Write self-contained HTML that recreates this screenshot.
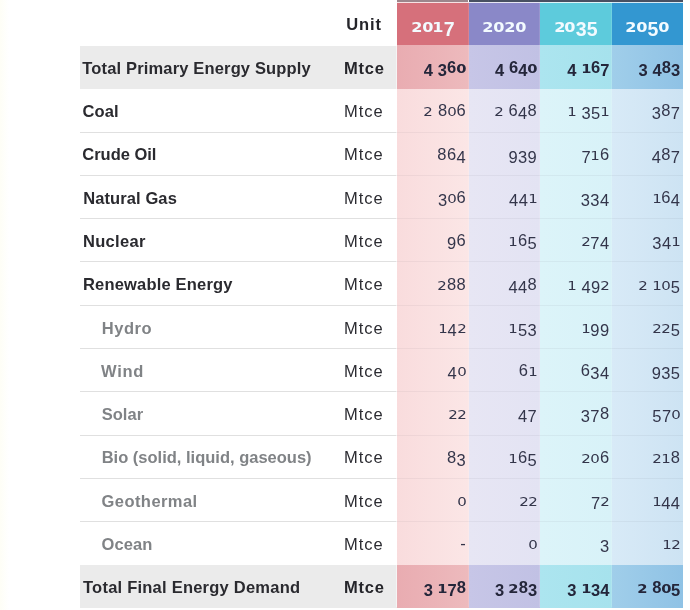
<!DOCTYPE html>
<html><head><meta charset="utf-8"><title>Energy table</title>
<style>
html,body{margin:0;padding:0;background:#fff;}
body{width:690px;height:610px;position:relative;overflow:hidden;font-family:"Liberation Sans",sans-serif;}
.a{position:absolute;white-space:nowrap;}
.lab{font-weight:bold;font-size:16.5px;line-height:20px;color:#2a2a2f;}
.sub{color:#808386;}
.unit{font-size:16.5px;line-height:20px;color:#2c2c32;letter-spacing:1.0px;}
.unitb{font-weight:bold;color:#25252a;letter-spacing:0.75px;}
.num{font-size:16.5px;line-height:20px;color:#33354a;text-align:right;letter-spacing:0.4px;}
.numb{font-weight:bold;color:#24263a;letter-spacing:0.1px;}
.x{font-family:"DejaVu Sans",sans-serif;font-size:12.8px;display:inline-block;transform:scaleX(1.17);margin:0 0.4px;letter-spacing:0;}
.numb .x{transform:scaleX(1.15);margin:0 0.4px;}
.x,.d,.u{line-height:0;}
.d{position:relative;top:3.0px;}
.yr .x{font-size:14px;transform:scaleX(1.15);margin:0 0.6px;}
.yr .d{font-size:19.5px;top:3.9px;}
.yr .u{font-size:19.5px;}
.yr{font-weight:bold;font-size:19.5px;line-height:20px;color:#f3fbff;text-align:center;}
</style></head><body>

<div class="a" style="left:0.00px;top:0.00px;width:9.00px;height:610.00px;background:linear-gradient(90deg,#fefef6,#ffffff);"></div>
<div class="a" style="left:397.20px;top:0.00px;width:71.30px;height:1.60px;background:#9c858c;"></div>
<div class="a" style="left:468.50px;top:0.00px;width:214.30px;height:1.60px;background:#485062;"></div>
<div class="a" style="left:397.20px;top:1.60px;width:71.90px;height:43.20px;background:#d6707b;"></div>
<div class="a" style="left:468.50px;top:1.60px;width:71.70px;height:43.20px;background:#8a88c8;"></div>
<div class="a" style="left:539.60px;top:1.60px;width:72.90px;height:43.20px;background:#5dcbdc;"></div>
<div class="a" style="left:611.90px;top:1.60px;width:70.90px;height:43.20px;background:#3397d1;"></div>
<div class="a" style="left:397.20px;top:1.65px;width:285.60px;height:1.75px;background:rgba(255,255,255,0.8);"></div>
<div class="a" style="left:397.20px;top:44.70px;width:71.90px;height:562.80px;background:linear-gradient(90deg,#f9dcdd,#fbe6e6);"></div>
<div class="a" style="left:468.50px;top:44.70px;width:71.70px;height:562.80px;background:linear-gradient(90deg,#e7e6f4,#e3e3f3);"></div>
<div class="a" style="left:539.60px;top:44.70px;width:72.90px;height:562.80px;background:linear-gradient(90deg,#dcf4f9,#d8f2f8);"></div>
<div class="a" style="left:611.90px;top:44.70px;width:70.90px;height:562.80px;background:linear-gradient(90deg,#d8eaf7,#cde3f3);"></div>
<div class="a" style="left:80.00px;top:45.60px;width:316.60px;height:43.38px;background:#ebebeb;"></div>
<div class="a" style="left:397.20px;top:44.90px;width:71.90px;height:44.18px;background:linear-gradient(90deg,#e9acb1,#edbabd);"></div>
<div class="a" style="left:468.50px;top:44.90px;width:71.70px;height:44.18px;background:linear-gradient(90deg,#c7c6e7,#c1c1e4);"></div>
<div class="a" style="left:539.60px;top:44.90px;width:72.90px;height:44.18px;background:linear-gradient(90deg,#ace5ef,#a6e2ed);"></div>
<div class="a" style="left:611.90px;top:44.90px;width:70.90px;height:44.18px;background:linear-gradient(90deg,#a0ceea,#8fc2e5);"></div>
<div class="a" style="left:80.00px;top:132.00px;width:316.80px;height:1.00px;background:#e0e0e0;"></div>
<div class="a" style="left:397.20px;top:132.00px;width:285.60px;height:1.00px;background:rgba(70,60,90,0.06);"></div>
<div class="a" style="left:80.00px;top:175.00px;width:316.80px;height:1.00px;background:#e0e0e0;"></div>
<div class="a" style="left:397.20px;top:175.00px;width:285.60px;height:1.00px;background:rgba(70,60,90,0.06);"></div>
<div class="a" style="left:80.00px;top:218.00px;width:316.80px;height:1.00px;background:#e0e0e0;"></div>
<div class="a" style="left:397.20px;top:218.00px;width:285.60px;height:1.00px;background:rgba(70,60,90,0.06);"></div>
<div class="a" style="left:80.00px;top:261.00px;width:316.80px;height:1.00px;background:#e0e0e0;"></div>
<div class="a" style="left:397.20px;top:261.00px;width:285.60px;height:1.00px;background:rgba(70,60,90,0.06);"></div>
<div class="a" style="left:80.00px;top:305.00px;width:316.80px;height:1.00px;background:#e0e0e0;"></div>
<div class="a" style="left:397.20px;top:305.00px;width:285.60px;height:1.00px;background:rgba(70,60,90,0.06);"></div>
<div class="a" style="left:80.00px;top:348.00px;width:316.80px;height:1.00px;background:#e0e0e0;"></div>
<div class="a" style="left:397.20px;top:348.00px;width:285.60px;height:1.00px;background:rgba(70,60,90,0.06);"></div>
<div class="a" style="left:80.00px;top:391.00px;width:316.80px;height:1.00px;background:#e0e0e0;"></div>
<div class="a" style="left:397.20px;top:391.00px;width:285.60px;height:1.00px;background:rgba(70,60,90,0.06);"></div>
<div class="a" style="left:80.00px;top:435.00px;width:316.80px;height:1.00px;background:#e0e0e0;"></div>
<div class="a" style="left:397.20px;top:435.00px;width:285.60px;height:1.00px;background:rgba(70,60,90,0.06);"></div>
<div class="a" style="left:80.00px;top:478.00px;width:316.80px;height:1.00px;background:#e0e0e0;"></div>
<div class="a" style="left:397.20px;top:478.00px;width:285.60px;height:1.00px;background:rgba(70,60,90,0.06);"></div>
<div class="a" style="left:80.00px;top:521.00px;width:316.80px;height:1.00px;background:#e0e0e0;"></div>
<div class="a" style="left:397.20px;top:521.00px;width:285.60px;height:1.00px;background:rgba(70,60,90,0.06);"></div>
<div class="a" style="left:80.00px;top:564.96px;width:316.60px;height:42.74px;background:#ebebeb;"></div>
<div class="a" style="left:397.20px;top:565.16px;width:71.90px;height:42.64px;background:linear-gradient(90deg,#e9acb1,#edbabd);"></div>
<div class="a" style="left:468.50px;top:565.16px;width:71.70px;height:42.64px;background:linear-gradient(90deg,#c7c6e7,#c1c1e4);"></div>
<div class="a" style="left:539.60px;top:565.16px;width:72.90px;height:42.64px;background:linear-gradient(90deg,#ace5ef,#a6e2ed);"></div>
<div class="a" style="left:611.90px;top:565.16px;width:70.90px;height:42.64px;background:linear-gradient(90deg,#a0ceea,#8fc2e5);"></div>
<div class="a" style="left:468.00px;top:3.20px;width:1.00px;height:604.30px;background:rgba(255,255,255,0.12);"></div>
<div class="a" style="left:539.10px;top:3.20px;width:1.00px;height:604.30px;background:rgba(255,255,255,0.12);"></div>
<div class="a" style="left:611.40px;top:3.20px;width:1.00px;height:604.30px;background:rgba(255,255,255,0.12);"></div>
<div class="a" style="left:396.40px;top:3.20px;width:1.00px;height:604.30px;background:rgba(255,255,255,0.5);"></div>
<div class="a unit unitb" style="left:346.3px;top:13.9px;letter-spacing:0.85px;">Unit</div>
<div class="a yr" aria-label="2017" style="left:397.2px;width:71.3px;top:14.7px;"><span class="x">2</span><span class="x">0</span><span class="x">1</span><span class="d">7</span></div>
<div class="a yr" aria-label="2020" style="left:468.5px;width:71.1px;top:14.7px;"><span class="x">2</span><span class="x">0</span><span class="x">2</span><span class="x">0</span></div>
<div class="a yr" aria-label="2035" style="left:539.6px;width:72.3px;top:14.7px;"><span class="x">2</span><span class="x">0</span><span class="d">3</span><span class="d">5</span></div>
<div class="a yr" aria-label="2050" style="left:611.9px;width:70.9px;top:14.7px;"><span class="x">2</span><span class="x">0</span><span class="d">5</span><span class="x">0</span></div>
<div class="a lab" style="left:82.30px;top:57.8px;letter-spacing:0.158px;">Total Primary Energy Supply</div>
<div class="a unit unitb" style="left:344.0px;top:57.8px;">Mtce</div>
<div class="a num numb" aria-label="4 360" style="left:397.2px;width:68.9px;top:57.1px;"><span class="d">4</span> <span class="d">3</span><span class="u">6</span><span class="x">0</span></div>
<div class="a num numb" aria-label="4 640" style="left:468.5px;width:68.7px;top:57.1px;"><span class="d">4</span> <span class="u">6</span><span class="d">4</span><span class="x">0</span></div>
<div class="a num numb" aria-label="4 167" style="left:539.6px;width:69.9px;top:57.1px;"><span class="d">4</span> <span class="x">1</span><span class="u">6</span><span class="d">7</span></div>
<div class="a num numb" aria-label="3 483" style="left:611.9px;width:68.5px;top:57.1px;"><span class="d">3</span> <span class="d">4</span><span class="u">8</span><span class="d">3</span></div>
<div class="a lab" style="left:82.60px;top:101.1px;letter-spacing:0.067px;">Coal</div>
<div class="a unit" style="left:344.0px;top:101.1px;">Mtce</div>
<div class="a num" aria-label="2 806" style="left:397.2px;width:68.9px;top:100.4px;"><span class="x">2</span> <span class="u">8</span><span class="x">0</span><span class="u">6</span></div>
<div class="a num" aria-label="2 648" style="left:468.5px;width:68.7px;top:100.4px;"><span class="x">2</span> <span class="u">6</span><span class="d">4</span><span class="u">8</span></div>
<div class="a num" aria-label="1 351" style="left:539.6px;width:69.9px;top:100.4px;"><span class="x">1</span> <span class="d">3</span><span class="d">5</span><span class="x">1</span></div>
<div class="a num" aria-label="387" style="left:611.9px;width:68.5px;top:100.4px;"><span class="d">3</span><span class="u">8</span><span class="d">7</span></div>
<div class="a lab" style="left:82.30px;top:144.4px;letter-spacing:-0.025px;">Crude Oil</div>
<div class="a unit" style="left:344.0px;top:144.4px;">Mtce</div>
<div class="a num" aria-label="864" style="left:397.2px;width:68.9px;top:143.7px;"><span class="u">8</span><span class="u">6</span><span class="d">4</span></div>
<div class="a num" aria-label="939" style="left:468.5px;width:68.7px;top:143.7px;"><span class="d">9</span><span class="d">3</span><span class="d">9</span></div>
<div class="a num" aria-label="716" style="left:539.6px;width:69.9px;top:143.7px;"><span class="d">7</span><span class="x">1</span><span class="u">6</span></div>
<div class="a num" aria-label="487" style="left:611.9px;width:68.5px;top:143.7px;"><span class="d">4</span><span class="u">8</span><span class="d">7</span></div>
<div class="a lab" style="left:83.20px;top:187.6px;letter-spacing:0.100px;">Natural Gas</div>
<div class="a unit" style="left:344.0px;top:187.6px;">Mtce</div>
<div class="a num" aria-label="306" style="left:397.2px;width:68.9px;top:186.9px;"><span class="d">3</span><span class="x">0</span><span class="u">6</span></div>
<div class="a num" aria-label="441" style="left:468.5px;width:68.7px;top:186.9px;"><span class="d">4</span><span class="d">4</span><span class="x">1</span></div>
<div class="a num" aria-label="334" style="left:539.6px;width:69.9px;top:186.9px;"><span class="d">3</span><span class="d">3</span><span class="d">4</span></div>
<div class="a num" aria-label="164" style="left:611.9px;width:68.5px;top:186.9px;"><span class="x">1</span><span class="u">6</span><span class="d">4</span></div>
<div class="a lab" style="left:82.90px;top:230.9px;letter-spacing:0.333px;">Nuclear</div>
<div class="a unit" style="left:344.0px;top:230.9px;">Mtce</div>
<div class="a num" aria-label="96" style="left:397.2px;width:68.9px;top:230.2px;"><span class="d">9</span><span class="u">6</span></div>
<div class="a num" aria-label="165" style="left:468.5px;width:68.7px;top:230.2px;"><span class="x">1</span><span class="u">6</span><span class="d">5</span></div>
<div class="a num" aria-label="274" style="left:539.6px;width:69.9px;top:230.2px;"><span class="x">2</span><span class="d">7</span><span class="d">4</span></div>
<div class="a num" aria-label="341" style="left:611.9px;width:68.5px;top:230.2px;"><span class="d">3</span><span class="d">4</span><span class="x">1</span></div>
<div class="a lab" style="left:83.00px;top:274.2px;letter-spacing:0.180px;">Renewable Energy</div>
<div class="a unit" style="left:344.0px;top:274.2px;">Mtce</div>
<div class="a num" aria-label="288" style="left:397.2px;width:68.9px;top:273.5px;"><span class="x">2</span><span class="u">8</span><span class="u">8</span></div>
<div class="a num" aria-label="448" style="left:468.5px;width:68.7px;top:273.5px;"><span class="d">4</span><span class="d">4</span><span class="u">8</span></div>
<div class="a num" aria-label="1 492" style="left:539.6px;width:69.9px;top:273.5px;"><span class="x">1</span> <span class="d">4</span><span class="d">9</span><span class="x">2</span></div>
<div class="a num" aria-label="2 105" style="left:611.9px;width:68.5px;top:273.5px;"><span class="x">2</span> <span class="x">1</span><span class="x">0</span><span class="d">5</span></div>
<div class="a lab sub" style="left:101.70px;top:317.5px;letter-spacing:0.575px;">Hydro</div>
<div class="a unit" style="left:344.0px;top:317.5px;">Mtce</div>
<div class="a num" aria-label="142" style="left:397.2px;width:68.9px;top:316.8px;"><span class="x">1</span><span class="d">4</span><span class="x">2</span></div>
<div class="a num" aria-label="153" style="left:468.5px;width:68.7px;top:316.8px;"><span class="x">1</span><span class="d">5</span><span class="d">3</span></div>
<div class="a num" aria-label="199" style="left:539.6px;width:69.9px;top:316.8px;"><span class="x">1</span><span class="d">9</span><span class="d">9</span></div>
<div class="a num" aria-label="225" style="left:611.9px;width:68.5px;top:316.8px;"><span class="x">2</span><span class="x">2</span><span class="d">5</span></div>
<div class="a lab sub" style="left:101.00px;top:360.8px;letter-spacing:0.733px;">Wind</div>
<div class="a unit" style="left:344.0px;top:360.8px;">Mtce</div>
<div class="a num" aria-label="40" style="left:397.2px;width:68.9px;top:360.1px;"><span class="d">4</span><span class="x">0</span></div>
<div class="a num" aria-label="61" style="left:468.5px;width:68.7px;top:360.1px;"><span class="u">6</span><span class="x">1</span></div>
<div class="a num" aria-label="634" style="left:539.6px;width:69.9px;top:360.1px;"><span class="u">6</span><span class="d">3</span><span class="d">4</span></div>
<div class="a num" aria-label="935" style="left:611.9px;width:68.5px;top:360.1px;"><span class="d">9</span><span class="d">3</span><span class="d">5</span></div>
<div class="a lab sub" style="left:101.70px;top:404.0px;letter-spacing:0.025px;">Solar</div>
<div class="a unit" style="left:344.0px;top:404.0px;">Mtce</div>
<div class="a num" aria-label="22" style="left:397.2px;width:68.9px;top:403.3px;"><span class="x">2</span><span class="x">2</span></div>
<div class="a num" aria-label="47" style="left:468.5px;width:68.7px;top:403.3px;"><span class="d">4</span><span class="d">7</span></div>
<div class="a num" aria-label="378" style="left:539.6px;width:69.9px;top:403.3px;"><span class="d">3</span><span class="d">7</span><span class="u">8</span></div>
<div class="a num" aria-label="570" style="left:611.9px;width:68.5px;top:403.3px;"><span class="d">5</span><span class="d">7</span><span class="x">0</span></div>
<div class="a lab sub" style="left:101.70px;top:447.3px;letter-spacing:0.000px;">Bio (solid, liquid, gaseous)</div>
<div class="a unit" style="left:344.0px;top:447.3px;">Mtce</div>
<div class="a num" aria-label="83" style="left:397.2px;width:68.9px;top:446.6px;"><span class="u">8</span><span class="d">3</span></div>
<div class="a num" aria-label="165" style="left:468.5px;width:68.7px;top:446.6px;"><span class="x">1</span><span class="u">6</span><span class="d">5</span></div>
<div class="a num" aria-label="206" style="left:539.6px;width:69.9px;top:446.6px;"><span class="x">2</span><span class="x">0</span><span class="u">6</span></div>
<div class="a num" aria-label="218" style="left:611.9px;width:68.5px;top:446.6px;"><span class="x">2</span><span class="x">1</span><span class="u">8</span></div>
<div class="a lab sub" style="left:101.50px;top:490.6px;letter-spacing:0.444px;">Geothermal</div>
<div class="a unit" style="left:344.0px;top:490.6px;">Mtce</div>
<div class="a num" aria-label="0" style="left:397.2px;width:68.9px;top:489.9px;"><span class="x">0</span></div>
<div class="a num" aria-label="22" style="left:468.5px;width:68.7px;top:489.9px;"><span class="x">2</span><span class="x">2</span></div>
<div class="a num" aria-label="72" style="left:539.6px;width:69.9px;top:489.9px;"><span class="d">7</span><span class="x">2</span></div>
<div class="a num" aria-label="144" style="left:611.9px;width:68.5px;top:489.9px;"><span class="x">1</span><span class="d">4</span><span class="d">4</span></div>
<div class="a lab sub" style="left:101.50px;top:533.9px;letter-spacing:0.100px;">Ocean</div>
<div class="a unit" style="left:344.0px;top:533.9px;">Mtce</div>
<div class="a num" aria-label="-" style="left:397.2px;width:68.9px;top:533.2px;">-</div>
<div class="a num" aria-label="0" style="left:468.5px;width:68.7px;top:533.2px;"><span class="x">0</span></div>
<div class="a num" aria-label="3" style="left:539.6px;width:69.9px;top:533.2px;"><span class="d">3</span></div>
<div class="a num" aria-label="12" style="left:611.9px;width:68.5px;top:533.2px;"><span class="x">1</span><span class="x">2</span></div>
<div class="a lab" style="left:83.00px;top:577.2px;letter-spacing:0.233px;">Total Final Energy Demand</div>
<div class="a unit unitb" style="left:344.0px;top:577.2px;">Mtce</div>
<div class="a num numb" aria-label="3 178" style="left:397.2px;width:68.9px;top:576.5px;"><span class="d">3</span> <span class="x">1</span><span class="d">7</span><span class="u">8</span></div>
<div class="a num numb" aria-label="3 283" style="left:468.5px;width:68.7px;top:576.5px;"><span class="d">3</span> <span class="x">2</span><span class="u">8</span><span class="d">3</span></div>
<div class="a num numb" aria-label="3 134" style="left:539.6px;width:69.9px;top:576.5px;"><span class="d">3</span> <span class="x">1</span><span class="d">3</span><span class="d">4</span></div>
<div class="a num numb" aria-label="2 805" style="left:611.9px;width:68.5px;top:576.5px;"><span class="x">2</span> <span class="u">8</span><span class="x">0</span><span class="d">5</span></div>
</body></html>
